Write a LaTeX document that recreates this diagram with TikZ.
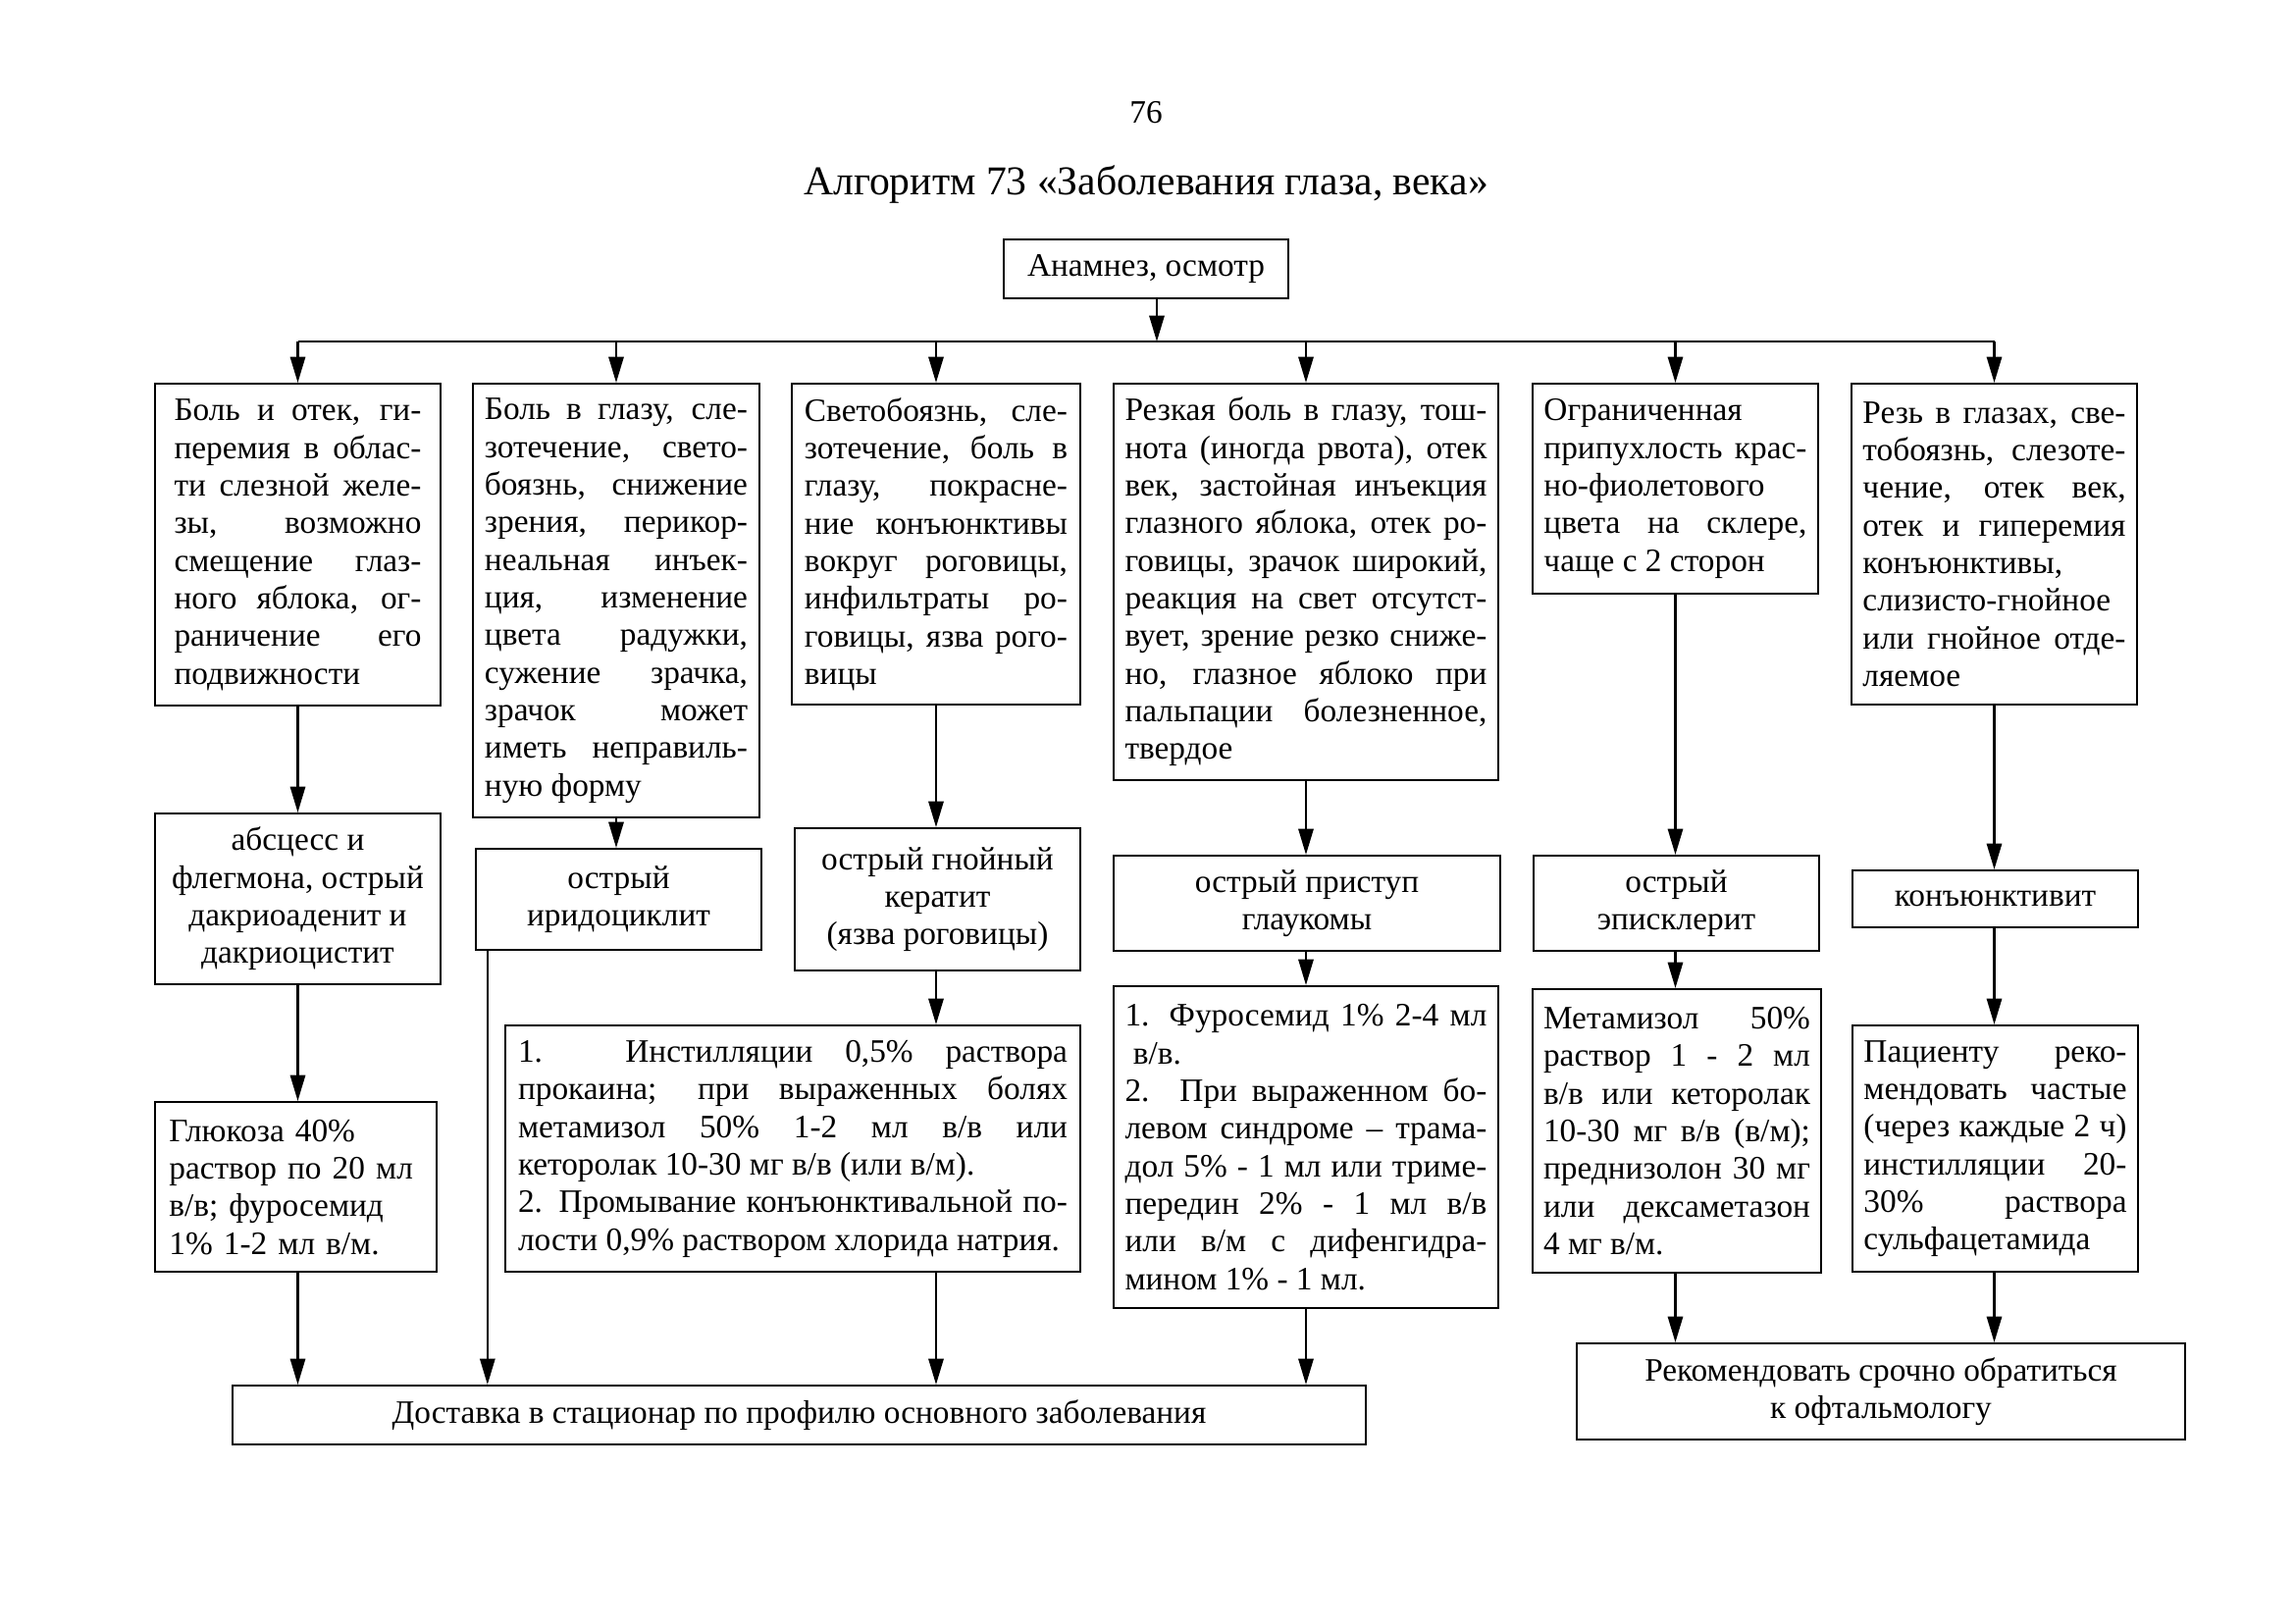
\documentclass[tikz,border=0pt]{standalone}
\usepackage{fontspec}
\setmainfont{Liberation Serif}
\usetikzlibrary{arrows.meta, positioning, calc}
\tolerance=10000
\hyphenpenalty=10000
\exhyphenpenalty=10000

\begin{document}
\begin{tikzpicture}[x=0.36pt, y=-0.36pt,
      font=\fontsize{12}{13.8}\selectfont,
      box/.style={draw, line width=0.8pt, align=center, inner sep=0pt, anchor=north},
      txt/.style={box, align=justify},
      link/.style={line width=0.8pt, -{Triangle[length=9.5pt, width=5.5pt]}}]
    \useasboundingbox (0,0) rectangle (2339,1654);
    \node (pnum) at (1168,115) {76};
    \node[font=\fontsize{15}{17}\selectfont] (title) at (1168,188) {Алгоритм 73 «Заболевания глаза, века»};
    \node[box, minimum width=104.4pt, minimum height=21.6pt] (a) at (1168,243) {Анамнез, осмотр};
    % first row: signs
    \node[txt, minimum width=104.8pt, minimum height=118.1pt, text width=90.7pt] (b1) at (303.5,390)
      {Боль и отек, ги-\linebreak перемия в облас-\linebreak ти слезной желе-\linebreak зы, возможно\linebreak смещение глаз-\linebreak ного яблока, ог-\linebreak раничение его\linebreak подвижности};
    \node[txt, minimum width=105.1pt, minimum height=159.1pt, text width=96.5pt] (b2) at (628,390)
      {Боль в глазу, сле-\linebreak зотечение, свето-\linebreak боязнь, снижение\linebreak зрения, перикор-\linebreak неальная инъек-\linebreak ция, изменение\linebreak цвета радужки,\linebreak сужение зрачка,\linebreak зрачок может\linebreak иметь неправиль-\linebreak ную форму};
    \node[txt, minimum width=105.8pt, minimum height=117.7pt, text width=96.5pt] (b3) at (954,390)
      {Светобоязнь, сле-\linebreak зотечение, боль в\linebreak глазу, покрасне-\linebreak ние конъюнктивы\linebreak вокруг роговицы,\linebreak инфильтраты ро-\linebreak говицы, язва рого-\linebreak вицы};
    \node[txt, minimum width=141.1pt, minimum height=145.4pt, text width=132.8pt] (b4) at (1331,390)
      {Резкая боль в глазу, тош-\linebreak нота (иногда рвота), отек\linebreak век, застойная инъекция\linebreak глазного яблока, отек ро-\linebreak говицы, зрачок широкий,\linebreak реакция на свет отсутст-\linebreak вует, зрение резко сниже-\linebreak но, глазное яблоко при\linebreak пальпации болезненное,\linebreak твердое};
    \node[txt, minimum width=104.8pt, minimum height=77pt, text width=96.5pt] (b5) at (1707.5,390)
      {Ограниченная\linebreak припухлость крас-\linebreak но-фиолетового\linebreak цвета на склере,\linebreak чаще с 2 сторон};
    \node[txt, minimum width=104.8pt, minimum height=117.7pt, text width=96.5pt] (b6) at (2032.5,390)
      {Резь в глазах, све-\linebreak тобоязнь, слезоте-\linebreak чение, отек век,\linebreak отек и гиперемия\linebreak конъюнктивы,\linebreak слизисто-гнойное\linebreak или гнойное отде-\linebreak ляемое};
    % second row: diagnoses
    \node[box, minimum width=104.8pt, minimum height=62.6pt] (r1) at (303.5,828) {абсцесс и\\ флегмона, острый\\ дакриоаденит и\\ дакриоцистит};
    \node[box, minimum width=104.8pt, minimum height=37.1pt] (r2) at (630.5,864) {острый\\ иридоциклит};
    \node[box, minimum width=104.8pt, minimum height=52.2pt] (r3) at (955.5,843) {острый гнойный\\ кератит\\ (язва роговицы)};
    \node[box, minimum width=141.8pt, minimum height=34.9pt] (r4) at (1332,871) {острый приступ\\ глаукомы};
    \node[box, minimum width=104.8pt, minimum height=34.9pt] (r5) at (1708.5,871) {острый\\ эписклерит};
    \node[box, minimum width=104.8pt, minimum height=20.9pt] (r6) at (2033.5,886) {конъюнктивит};
    % third row: treatment
    \node[box, align=left, minimum width=103.3pt, minimum height=62.3pt, text width=93pt] (t1) at (301.5,1122)
      {Глюкоза 40\%\\ раствор по 20 мл\\ в/в; фуросемид\\ 1\% 1-2 мл в/м.};
    \node[txt, minimum width=211pt, minimum height=90.4pt, text width=201.6pt] (t2) at (808,1044)
      {1. Инстилляции 0,5\% раствора\linebreak прокаина; при выраженных болях\linebreak метамизол 50\% 1-2 мл в/в или\linebreak кеторолак 10-30 мг в/в (или в/м).\newline 2. Промывание конъюнктивальной по-\linebreak лости 0,9\% раствором хлорида натрия.};
    \node[txt, minimum width=141.1pt, minimum height=118.1pt, text width=132.8pt] (t3) at (1331,1004)
      {1. Фуросемид 1\% 2-4 мл\linebreak\hspace*{0.25em}в/в.\newline 2. При выраженном бо-\linebreak левом синдроме – трама-\linebreak дол 5\% - 1 мл или триме-\linebreak передин 2\% - 1 мл в/в\linebreak или в/м с дифенгидра-\linebreak мином 1\% - 1 мл.};
    \node[txt, minimum width=105.8pt, minimum height=104pt, text width=97.9pt] (t4) at (1709,1007)
      {Метамизол 50\%\linebreak раствор 1 - 2 мл\linebreak в/в или кеторолак\linebreak 10-30 мг в/в (в/м);\linebreak преднизолон 30 мг\linebreak или дексаметазон\linebreak 4 мг в/м.};
    \node[txt, minimum width=104.8pt, minimum height=90.4pt, text width=96.5pt] (t5) at (2033.5,1044)
      {Пациенту реко-\linebreak мендовать частые\linebreak (через каждые 2 ч)\linebreak инстилляции 20-\linebreak 30\% раствора\linebreak сульфацетамида};
    % outcomes
    \node[box, minimum width=415.8pt, minimum height=21.6pt] (d) at (814.5,1411) {Доставка в стационар по профилю основного заболевания};
    \node[box, minimum width=223.2pt, minimum height=35.3pt] (k) at (1917,1368) {Рекомендовать срочно обратиться\\ к офтальмологу};
    % connectors
    \coordinate (bus) at (1179,348);
    \coordinate (r2x) at ($(r2.south west)+(13,0)$);
    \draw[link] (a.south -| bus) -- (bus);
    \draw[line width=0.8pt] (b1.north |- bus) -- (b6.north |- bus);
    \foreach \n in {b1,b2,b3,b4,b5,b6}
      \draw[link] (\n.north |- bus) -- (\n.north);
    \foreach \c/\u/\v in {b1/b1/r1, b1/r1/t1, b1/t1/d, b2/b2/r2, b3/b3/r3, b3/r3/t2, b3/t2/d,
        b4/b4/r4, b4/r4/t3, b4/t3/d, b5/b5/r5, b5/r5/t4, b5/t4/k, b6/b6/r6, b6/r6/t5, b6/t5/k}
      \draw[link] (\c.south |- \u.south) -- (\c.south |- \v.north);
    \draw[link] (r2x) -- (r2x |- d.north);
  \end{tikzpicture}
\end{document}
